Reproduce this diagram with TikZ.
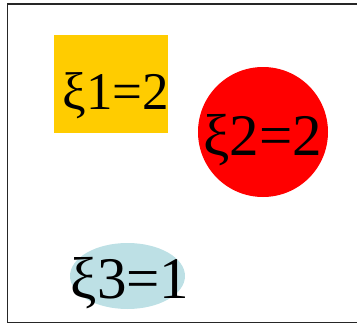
\documentclass[tikz,border=0pt]{standalone}
\usepackage{fontspec}
\setmainfont{Liberation Serif}
\usetikzlibrary{shapes.geometric}
\definecolor{gold}{HTML}{FFCC00}
\definecolor{paleblue}{HTML}{BDE0E5}

\begin{document}
\begin{tikzpicture}[
  x=1pt, y=-1pt,
  shp/.style={inner sep=0pt, outer sep=0pt, draw=none},
  val/.style={anchor=base, inner sep=0pt},
  small/.style={font=\fontsize{53}{53}\selectfont},
  big/.style={font=\fontsize{59}{59}\selectfont}
]
\useasboundingbox (0,0) rectangle (357,324);
\draw[line width=1pt, black!85] (7,4) rectangle (362,322);

\node[shp, fill=gold, minimum width=114pt, minimum height=98pt] (box1) at (111,84) {};
\node[shp, circle, fill=red, minimum size=130pt] (ball2) at (263,132) {};
\node[shp, ellipse, fill=paleblue, minimum width=115pt, minimum height=66pt] (oval3) at (127.5,276) {};

\node[val, small] (xi1) at (116,110) {ξ1=2};
\node[val, big] (xi2) at (262.5,155) {ξ2=2};
\node[val, big] (xi3) at (130,298) {ξ3=1};
\end{tikzpicture}
\end{document}
